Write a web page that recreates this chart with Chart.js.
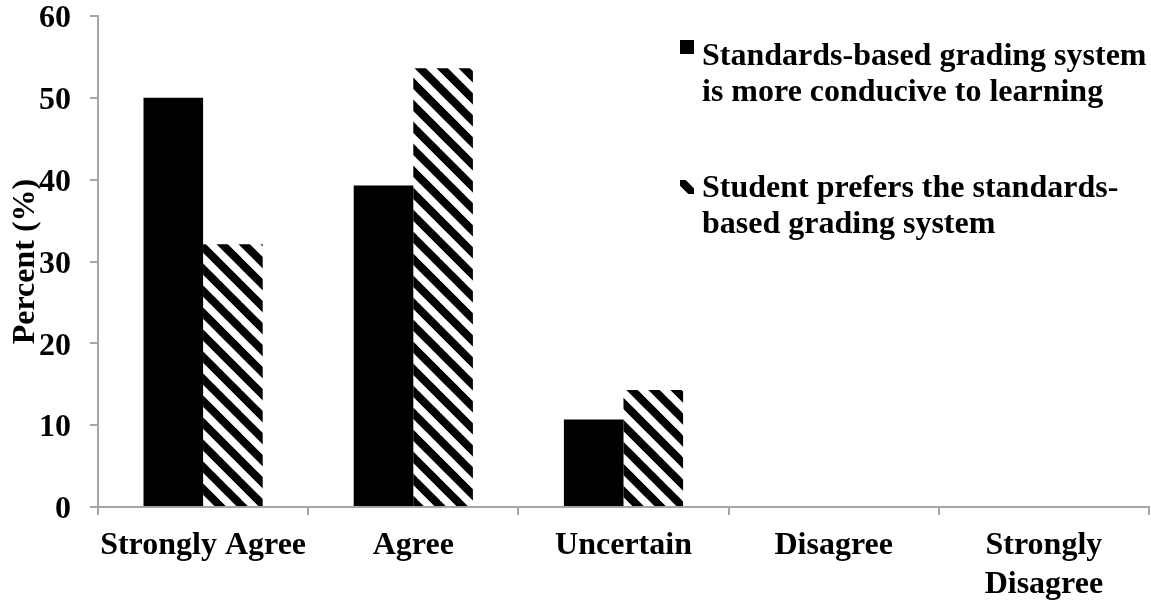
<!DOCTYPE html>
<html>
<head>
<meta charset="utf-8">
<script src="https://cdn.jsdelivr.net/npm/chart.js@4"></script>
<style>
  html, body { margin: 0; padding: 0; background: #fff; }
  #wrap { position: relative; width: 1151px; height: 604px; }
  #legend { position: absolute; left: 680px; top: 0; font-family: "Liberation Serif", "Times New Roman", serif; font-weight: bold; font-size: 32px; line-height: 36px; color: #000; }
  .item { position: absolute; left: 0; white-space: nowrap; }
  .item canvas { position: absolute; left: 0; }
  .item .txt { position: absolute; left: 22px; top: 0; }
</style>
</head>
<body>
<div id="wrap">
  <canvas id="c"></canvas>
  <div id="legend">
    <div class="item" style="top:36px"><canvas id="m1" width="14" height="14" style="top:4px"></canvas><div class="txt">Standards-based grading system<br>is more conducive to learning</div></div>
    <div class="item" style="top:168px"><canvas id="m2" width="14" height="14" style="top:12px"></canvas><div class="txt">Student prefers the standards-<br>based grading system</div></div>
  </div>
</div>
<script>
// ---- data ----
const categories = ['Strongly Agree', 'Agree', 'Uncertain', 'Disagree', ['Strongly', 'Disagree']];
const seriesNames = ['Standards-based grading system is more conducive to learning', 'Student prefers the standards-based grading system'];
const conduciveValues = [50.0, 39.3, 10.7, 0, 0];
const prefersValues = [32.1, 53.6, 14.3, 0, 0];
const yTicks = [0, 10, 20, 30, 40, 50, 60];

function makeHatchCanvas(size, width) {
  const c = document.createElement('canvas');
  c.width = size; c.height = size;
  const g = c.getContext('2d');
  g.fillStyle = '#fff';
  g.fillRect(0, 0, size, size);
  g.strokeStyle = '#000';
  g.lineWidth = width;
  for (const o of [-size, 0, size]) {
    g.beginPath();
    g.moveTo(o - 6, -6);
    g.lineTo(o + size + 6, size + 6);
    g.stroke();
  }
  return c;
}
const hatchTile = makeHatchCanvas(22, 8);
const ctx = document.getElementById('c').getContext('2d');
const hatch = ctx.createPattern(hatchTile, 'repeat');

// legend markers
(function () {
  const m1 = document.getElementById('m1').getContext('2d');
  m1.fillStyle = '#000'; m1.fillRect(0, 0, 14, 14);
  const m2 = document.getElementById('m2').getContext('2d');
  m2.fillStyle = m2.createPattern(hatchTile, 'repeat');
  m2.fillRect(0, 0, 14, 14);
})();

const fontFamily = '"Liberation Serif", "Times New Roman", serif';
const gray = '#a6a6a6';

new Chart(ctx, {
  type: 'bar',
  data: {
    labels: categories,
    datasets: [
      { label: seriesNames[0], data: conduciveValues, backgroundColor: '#000', borderWidth: 0, barPercentage: 1.0, categoryPercentage: 0.567 },
      { label: seriesNames[1], data: prefersValues, backgroundColor: hatch, borderWidth: 0, barPercentage: 1.0, categoryPercentage: 0.567 }
    ]
  },
  options: {
    responsive: true,
    maintainAspectRatio: false,
    animation: false,
    devicePixelRatio: 1,
    layout: { padding: { top: 0, right: 2, left: 0, bottom: 0 } },
    plugins: { legend: { display: false }, tooltip: { enabled: false } },
    scales: {
      x: {
        grid: { display: true, drawOnChartArea: false, drawTicks: true, tickLength: 8, color: gray, lineWidth: 2, offset: true },
        border: { display: true, color: gray, width: 2 },
        ticks: { color: '#000', font: { family: fontFamily, weight: 'bold', size: 32, lineHeight: 1.2 }, padding: 12, maxRotation: 0, autoSkip: false },
        afterFit: (s) => { s.height = 97; }
      },
      y: {
        min: 0, max: 60,
        afterBuildTicks: (s) => { s.ticks = yTicks.map(v => ({ value: v })); },
        grid: { display: true, drawOnChartArea: false, drawTicks: true, tickLength: 8, color: gray, lineWidth: 2 },
        border: { display: true, color: gray, width: 2 },
        ticks: { color: '#000', font: { family: fontFamily, weight: 'bold', size: 32, lineHeight: 1.0 }, padding: 19, labelOffset: 3 },
        title: { display: true, text: 'Percent (%)', color: '#000', font: { family: fontFamily, weight: 'bold', size: 32, lineHeight: 1.0 }, padding: { top: 10, bottom: 0 } },
        afterFit: (s) => { s.width = 98; s.paddingTop = 16; s.paddingBottom = 16; }
      }
    }
  }
});
</script>
</body>
</html>
